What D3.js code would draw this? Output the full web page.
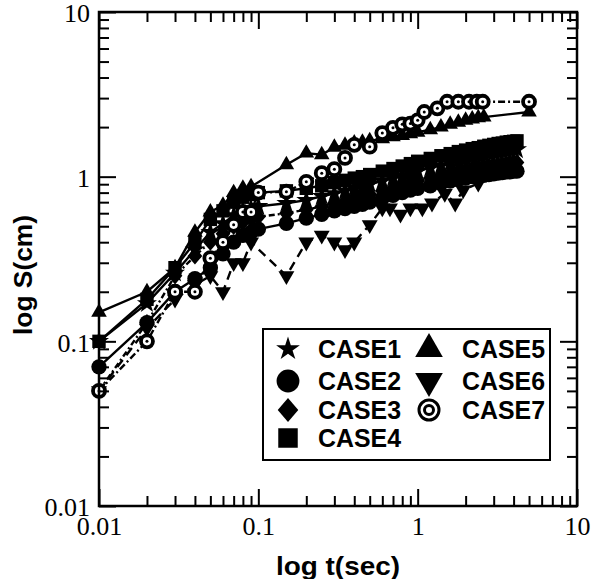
<!DOCTYPE html>
<html><head><meta charset="utf-8">
<script src="https://cdn.jsdelivr.net/npm/d3@7"></script>
<style>body{margin:0;background:#fff}svg{display:block}</style>
</head><body><svg id="c" width="601" height="579"></svg>
<script>
// ---- data ----
const seriesNames = ["CASE1","CASE2","CASE3","CASE4","CASE5","CASE6","CASE7"];
const majorTicks = [0.01, 0.1, 1, 10];
const majorTickLabels = ["0.01", "0.1", "1", "10"];

const timesBand = [0.01,0.02,0.03,0.04,0.05,0.06,0.07,0.08,0.09,0.1,0.15,0.2,0.25,0.3,0.35,0.4,0.45,0.5,0.6,0.7,0.8,0.9,1.0,1.2,1.4,1.6,1.8,2.0,2.2,2.4,2.6,2.8,3.0,3.2,3.4,3.6,3.8,4.0,4.2];
const case1S = [0.1,0.17,0.26,0.36,0.46,0.52,0.58,0.62,0.64,0.66,0.69,0.72,0.76,0.79,0.82,0.85,0.87,0.9,0.94,0.98,1.01,1.05,1.08,1.13,1.17,1.21,1.25,1.28,1.31,1.33,1.35,1.37,1.39,1.4,1.42,1.43,1.44,1.45,1.46];
const case2S = [0.07,0.13,0.2,0.24,0.28,0.34,0.4,0.44,0.46,0.48,0.52,0.56,0.59,0.62,0.64,0.66,0.68,0.7,0.74,0.77,0.8,0.83,0.85,0.88,0.91,0.94,0.96,0.98,1.0,1.01,1.02,1.03,1.04,1.05,1.06,1.07,1.07,1.08,1.08];
const case3S = [0.05,0.13,0.25,0.33,0.4,0.45,0.5,0.53,0.55,0.57,0.6,0.63,0.66,0.69,0.71,0.74,0.76,0.78,0.82,0.85,0.88,0.91,0.94,0.98,1.02,1.05,1.08,1.1,1.12,1.14,1.15,1.16,1.17,1.18,1.19,1.2,1.21,1.21,1.22];
const case4S = [0.1,0.18,0.28,0.4,0.55,0.62,0.7,0.75,0.78,0.8,0.82,0.85,0.88,0.92,0.95,0.98,1.0,1.03,1.08,1.12,1.16,1.2,1.24,1.29,1.34,1.38,1.42,1.45,1.48,1.5,1.53,1.55,1.57,1.59,1.6,1.62,1.63,1.64,1.65];

const case5T = [0.01,0.02,0.03,0.04,0.05,0.06,0.07,0.08,0.09,0.15,0.2,0.25,0.3,0.35,0.4,0.45,0.5,0.6,0.7,0.8,0.9,1.0,1.2,1.4,1.6,1.8,2.0,2.2,2.4,2.6,5.0];
const case5S = [0.15,0.2,0.28,0.46,0.61,0.67,0.8,0.85,0.87,1.18,1.39,1.36,1.51,1.55,1.6,1.62,1.65,1.7,1.75,1.78,1.82,1.86,1.93,2.0,2.08,2.14,2.2,2.24,2.28,2.3,2.47];

const case6T = [0.01,0.02,0.03,0.04,0.05,0.06,0.07,0.08,0.09,0.15,0.2,0.25,0.3,0.35,0.4,0.5,0.6,0.67,0.78,0.9,1.07,1.23,1.48,1.72,1.93,2.4];
const case6S = [0.05,0.12,0.18,0.22,0.25,0.2,0.3,0.3,0.4,0.25,0.4,0.44,0.4,0.36,0.4,0.51,0.645,0.645,0.59,0.645,0.645,0.69,0.79,0.69,0.83,0.91];

const case7T = [0.01,0.02,0.03,0.04,0.05,0.06,0.07,0.08,0.09,0.1,0.15,0.2,0.25,0.3,0.35,0.4,0.5,0.6,0.7,0.8,0.9,1.0,1.1,1.33,1.53,1.8,2.1,2.35,2.56,5.0];
const case7S = [0.05,0.1,0.2,0.2,0.32,0.4,0.51,0.61,0.61,0.8,0.81,0.93,1.05,1.11,1.3,1.56,1.52,1.84,1.98,2.08,2.1,2.2,2.47,2.6,2.85,2.85,2.85,2.85,2.85,2.85];

// ---- layout ----
const svg = d3.select("#c");
const L = 99, R = 577, T = 12, B = 506;
const x = d3.scaleLog().domain([0.01, 10]).range([L, R]);
const y = d3.scaleLog().domain([0.01, 10]).range([B, T]);

const minorTicks = x.ticks().filter(v => !majorTicks.some(m => Math.abs(m - v) / m < 1e-6));

// ---- custom symbols ----
const symDiamond = { draw(ctx, size) { const h = Math.sqrt(size) * 0.62, w = h * 0.85; ctx.moveTo(0,-h); ctx.lineTo(w,0); ctx.lineTo(0,h); ctx.lineTo(-w,0); ctx.closePath(); } };
const symDown = { draw(ctx, size) { const s = Math.sqrt(size / (Math.sqrt(3)/4)); const hh = s*Math.sqrt(3)/2; ctx.moveTo(-s/2,-hh/3); ctx.lineTo(s/2,-hh/3); ctx.lineTo(0,2*hh/3); ctx.closePath(); } };

const styleOf = {
  CASE1: {type: d3.symbolStar, size: 125, dash: null},
  CASE2: {type: d3.symbolCircle, size: 185, dash: null},
  CASE3: {type: symDiamond, size: 195, dash: "6,3,2,3"},
  CASE4: {type: d3.symbolSquare, size: 180, dash: null},
  CASE5: {type: d3.symbolTriangle, size: 105, dash: null},
  CASE6: {type: symDown, size: 110, dash: "9,6"},
  CASE7: {type: "ring", size: 0, dash: "7,3,2,3"}
};

const series = [
  {name: "CASE1", t: timesBand, s: case1S},
  {name: "CASE3", t: timesBand, s: case3S},
  {name: "CASE2", t: timesBand, s: case2S},
  {name: "CASE4", t: timesBand, s: case4S},
  {name: "CASE6", t: case6T, s: case6S},
  {name: "CASE5", t: case5T, s: case5S},
  {name: "CASE7", t: case7T, s: case7S}
];

const plot = svg.append("g");
const line = d3.line().x(d => x(d[0])).y(d => y(d[1]));
series.forEach(ser => {
  const st = styleOf[ser.name];
  const pts = ser.t.map((t, i) => [t, ser.s[i]]);
  plot.append("path").datum(pts).attr("d", line)
    .attr("fill", "none").attr("stroke", "#000").attr("stroke-width", 2.4)
    .attr("stroke-dasharray", st.dash);
  const g = plot.append("g");
  if (st.type === "ring") {
    g.selectAll("circle.o").data(pts).join("circle")
      .attr("cx", d => x(d[0])).attr("cy", d => y(d[1])).attr("r", 6)
      .attr("fill", "#fff").attr("stroke", "#000").attr("stroke-width", 3.8);
    g.selectAll("circle.i").data(pts).join("circle").attr("class","i")
      .attr("cx", d => x(d[0])).attr("cy", d => y(d[1])).attr("r", 1.5).attr("fill", "#000");
  } else {
    g.selectAll("path").data(pts).join("path")
      .attr("transform", d => `translate(${x(d[0])},${y(d[1])})`)
      .attr("d", d3.symbol().type(st.type).size(st.size)).attr("fill", "#000");
  }
});

// ---- axes (inward ticks on all sides) ----
const tickFont = "'Liberation Serif','Times New Roman',serif";
function styleAxis(g) {
  g.selectAll("path.domain").remove();
  g.selectAll("line").attr("stroke", "#000").attr("stroke-width", 2);
}
const fmt = v => majorTickLabels[majorTicks.findIndex(m => Math.abs(m - v) / m < 1e-6)];

svg.append("g").attr("transform", `translate(0,${B})`)
  .call(d3.axisBottom(x).tickValues(majorTicks).tickSize(-17).tickPadding(11).tickFormat(fmt))
  .call(styleAxis)
  .call(g => g.selectAll("text").attr("font-family", tickFont).attr("font-size", 26).attr("fill", "#000"));
svg.append("g").attr("transform", `translate(0,${B})`)
  .call(d3.axisBottom(x).tickValues(minorTicks).tickSize(-10).tickFormat(""))
  .call(styleAxis);
svg.append("g").attr("transform", `translate(0,${T})`)
  .call(d3.axisTop(x).tickValues(majorTicks).tickSize(-17).tickFormat(""))
  .call(styleAxis);
svg.append("g").attr("transform", `translate(0,${T})`)
  .call(d3.axisTop(x).tickValues(minorTicks).tickSize(-10).tickFormat(""))
  .call(styleAxis);
svg.append("g").attr("transform", `translate(${L},0)`)
  .call(d3.axisLeft(y).tickValues(majorTicks).tickSize(-17).tickPadding(9).tickFormat(fmt))
  .call(styleAxis)
  .call(g => g.selectAll("text").attr("font-family", tickFont).attr("font-size", 26).attr("fill", "#000").attr("dy", "0.38em"));
svg.append("g").attr("transform", `translate(${L},0)`)
  .call(d3.axisLeft(y).tickValues(minorTicks).tickSize(-10).tickFormat(""))
  .call(styleAxis);
svg.append("g").attr("transform", `translate(${R},0)`)
  .call(d3.axisRight(y).tickValues(majorTicks).tickSize(-17).tickFormat(""))
  .call(styleAxis);
svg.append("g").attr("transform", `translate(${R},0)`)
  .call(d3.axisRight(y).tickValues(minorTicks).tickSize(-10).tickFormat(""))
  .call(styleAxis);

svg.append("rect").attr("x", L).attr("y", T).attr("width", R - L).attr("height", B - T)
  .attr("fill", "none").attr("stroke", "#000").attr("stroke-width", 2.5);

// ---- axis titles ----
const titleFont = "'Liberation Sans','DejaVu Sans',sans-serif";
svg.append("text").attr("x", 338).attr("y", 575).attr("text-anchor", "middle")
  .attr("font-family", titleFont).attr("font-weight", "bold").attr("font-size", 25)
  .attr("textLength", 124).attr("lengthAdjust", "spacingAndGlyphs").text("log t(sec)");
svg.append("text").attr("transform", "translate(32,275) rotate(-90)").attr("text-anchor", "middle")
  .attr("font-family", titleFont).attr("font-weight", "bold").attr("font-size", 25)
  .attr("textLength", 120).attr("lengthAdjust", "spacingAndGlyphs").text("log S(cm)");

// ---- legend ----
const leg = svg.append("g");
leg.append("rect").attr("x", 263).attr("y", 329).attr("width", 287).attr("height", 131)
  .attr("fill", "#fff").attr("stroke", "#000").attr("stroke-width", 2);
const legendRows = [349, 381, 410, 438];
const legItems = [
  {name: "CASE1", col: 0, row: 0}, {name: "CASE2", col: 0, row: 1}, {name: "CASE3", col: 0, row: 2}, {name: "CASE4", col: 0, row: 3},
  {name: "CASE5", col: 1, row: 0}, {name: "CASE6", col: 1, row: 1}, {name: "CASE7", col: 1, row: 2}
];
const legSize = {CASE1: 175, CASE2: 410, CASE3: 380, CASE4: 380, CASE5: 330, CASE6: 330};
legItems.forEach(it => {
  const sx = it.col === 0 ? 288 : 429, tx = it.col === 0 ? 318 : 462, yy = legendRows[it.row];
  const st = styleOf[it.name];
  if (st.type === "ring") {
    leg.append("circle").attr("cx", sx).attr("cy", yy).attr("r", 10).attr("fill", "#fff").attr("stroke", "#000").attr("stroke-width", 3);
    leg.append("circle").attr("cx", sx).attr("cy", yy).attr("r", 4.5).attr("fill", "#fff").attr("stroke", "#000").attr("stroke-width", 3);
  } else {
    leg.append("path").attr("transform", `translate(${sx},${yy})`)
      .attr("d", d3.symbol().type(st.type).size(legSize[it.name])).attr("fill", "#000");
  }
  leg.append("text").attr("x", tx).attr("y", yy + 9).attr("font-family", titleFont).attr("font-weight", "bold")
    .attr("font-size", 25).attr("textLength", 83).attr("lengthAdjust", "spacingAndGlyphs").text(it.name);
});
</script></body></html>
